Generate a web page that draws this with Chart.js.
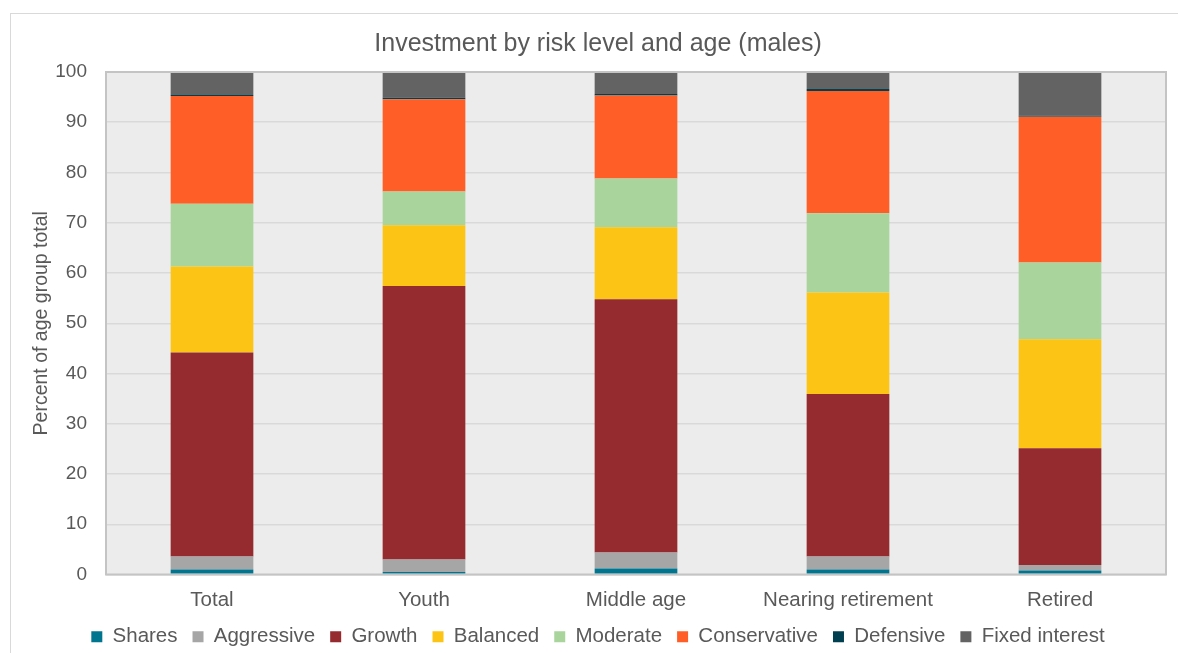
<!DOCTYPE html>
<html>
<head>
<meta charset="utf-8">
<script src="https://cdn.jsdelivr.net/npm/chart.js@4.4.0/dist/chart.umd.min.js"></script>
<style>
  html, body { margin: 0; padding: 0; background: #fff; }
  #frame { position: absolute; left: 10px; top: 13px; width: 1300px; height: 700px; border: 1px solid #d9d9d9; }
  #wrap { position: absolute; left: 0; top: 0; width: 1178px; height: 653px; }
</style>
</head>
<body>
<div id="frame"></div>
<div id="wrap"><canvas id="c" width="1178" height="653"></canvas></div>
<script>
const categories = ["Total", "Youth", "Middle age", "Nearing retirement", "Retired"];
const shares       = [1.0, 0.5, 1.2, 1.0, 0.8];
const aggressive   = [2.6, 2.5, 3.2, 2.6, 1.1];
const growth       = [40.6, 54.4, 50.4, 32.3, 23.2];
const balanced     = [17.1, 12.1, 14.3, 20.2, 21.7];
const moderate     = [12.5, 6.7, 9.7, 15.8, 15.3];
const conservative = [21.4, 18.4, 16.5, 24.3, 29.0];
const defensive    = [0.2, 0.3, 0.3, 0.4, 0.2];
const fixedInterest= [4.6, 5.1, 4.4, 3.4, 8.7];
const seriesNames = ["Shares", "Aggressive", "Growth", "Balanced", "Moderate", "Conservative", "Defensive", "Fixed interest"];
const seriesColors = ["#00758f", "#a6a6a6", "#952b2e", "#fcc515", "#a9d59d", "#ff5f27", "#003f4f", "#636363"];
const yTicks = [0, 10, 20, 30, 40, 50, 60, 70, 80, 90, 100];

const seriesValues = [shares, aggressive, growth, balanced, moderate, conservative, defensive, fixedInterest];

const plotDeco = {
  id: 'plotDeco',
  beforeDraw(chart) {
    const {ctx, chartArea: a} = chart;
    ctx.save();
    ctx.fillStyle = '#ececec';
    ctx.fillRect(a.left, a.top, a.right - a.left, a.bottom - a.top);
    ctx.restore();
  },
  afterDatasetsDraw(chart) {
    const {ctx, chartArea: a} = chart;
    ctx.save();
    ctx.strokeStyle = '#c4c4c4';
    ctx.lineWidth = 2;
    ctx.strokeRect(a.left, a.top, a.right - a.left, a.bottom - a.top);
    ctx.restore();
  }
};

const FONT = 'Liberation Sans';

new Chart(document.getElementById('c'), {
  type: 'bar',
  data: {
    labels: categories,
    datasets: seriesNames.map((n, i) => ({
      label: n,
      data: seriesValues[i],
      backgroundColor: seriesColors[i],
      borderWidth: 0,
      barPercentage: 0.39,
      categoryPercentage: 1.0
    }))
  },
  options: {
    responsive: false,
    animation: false,
    layout: { padding: { left: 30, right: 12, top: 0, bottom: -4 } },
    plugins: {
      title: {
        display: true,
        text: 'Investment by risk level and age (males)',
        color: '#595959',
        font: { family: FONT, size: 25, weight: 'normal' },
        padding: { top: 29, bottom: 13 }
      },
      legend: {
        position: 'bottom',
        labels: {
          color: '#595959',
          font: { family: FONT, size: 20.5 },
          boxWidth: 11,
          boxHeight: 11,
          padding: 15
        }
      },
      tooltip: { enabled: false }
    },
    scales: {
      x: {
        stacked: true,
        grid: { display: false, drawTicks: false },
        border: { display: false },
        ticks: { color: '#595959', font: { family: FONT, size: 20.5 }, padding: 14 },
        afterFit(s) { s.height = 37; }
      },
      y: {
        stacked: true,
        min: 0, max: 100,
        afterBuildTicks(s) { s.ticks = yTicks.map(v => ({ value: v })); },
        grid: { color: '#d9d9d9', lineWidth: 1.5, drawTicks: false },
        border: { display: false },
        ticks: { color: '#595959', font: { family: FONT, size: 19 }, padding: 19 },
        title: {
          display: true,
          text: 'Percent of age group total',
          color: '#595959',
          font: { family: FONT, size: 19.5 },
          padding: { top: 0, bottom: 0 }
        },
        afterFit(s) { s.width = 76; }
      }
    }
  },
  plugins: [plotDeco]
});
</script>
</body>
</html>
